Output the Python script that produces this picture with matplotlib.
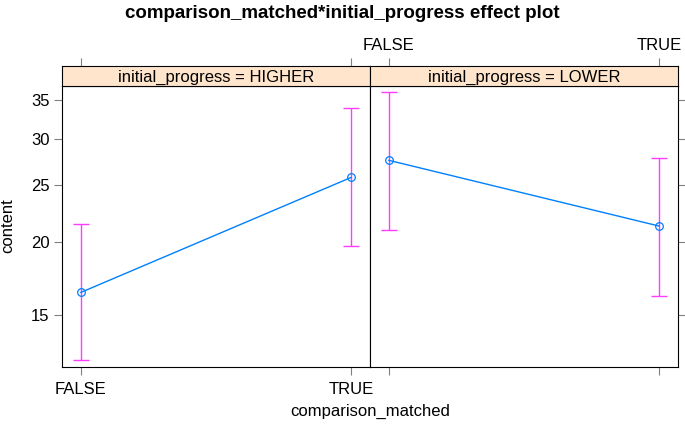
import matplotlib
matplotlib.use("Agg")
import matplotlib.pyplot as plt
import numpy as np

plt.rcParams['font.family'] = ['Liberation Sans', 'DejaVu Sans']

levels = ["FALSE", "TRUE"]
panels = ["initial_progress = HIGHER", "initial_progress = LOWER"]
fit = [[16.4, 25.8], [27.6, 21.3]]
lower = [[12.55, 19.7], [21.0, 16.15]]
upper = [[21.5, 33.9], [36.1, 27.9]]
yticks = [15, 20, 25, 30, 35]

W, H = 685, 426
fig = plt.figure(figsize=(W / 100, H / 100), dpi=100)

def fx(px):
  return px / W

def fy(px):
  return 1 - px / H

xpos = np.array([1, 2])
xlim = (1 - 0.07, 2 + 0.07)
ylim = (12.22, 37.0)
tick_col = "#808080"
fs = 12

for i in range(2):
  left = 62 + i * 308
  ax = fig.add_axes([fx(left), fy(367), fx(308), fy(86) - fy(367)])
  ax.set_yscale("log")
  ax.set_xlim(*xlim)
  ax.set_ylim(*ylim)
  err = [np.array(fit[i]) - np.array(lower[i]), np.array(upper[i]) - np.array(fit[i])]
  ax.errorbar(xpos, fit[i], yerr=err, fmt="none", ecolor="#FF3DFF", elinewidth=1.0,
              capsize=5.5, capthick=1.0)
  ax.plot(xpos, fit[i], color="#0080FF", lw=1.0, marker="o", ms=5.5, mfc="none", mec="#0080FF", mew=0.9)
  ax.yaxis.set_minor_locator(matplotlib.ticker.NullLocator())
  ax.set_yticks(yticks)
  ax.set_xticks(xpos)
  ax.tick_params(direction="out", length=5.5, color=tick_col, labelsize=fs)
  ax.tick_params(axis="x", pad=5)
  if i == 0:
    ax.set_yticklabels([str(t) for t in yticks])
    ax.set_xticklabels(levels)
    ax.tick_params(axis="y", left=True, right=False)
  else:
    ax.tick_params(axis="y", left=False, right=True, labelleft=False)
    ax.tick_params(axis="x", labelbottom=False)
  for s in ax.spines.values():
    s.set_linewidth(0.8)

  sax = fig.add_axes([fx(left), fy(86), fx(308), fy(66) - fy(86)])
  sax.set_facecolor("#FFE5CC")
  sax.set_xlim(*xlim)
  sax.set_ylim(0, 1)
  sax.set_yticks([])
  sax.set_xticks(xpos)
  sax.tick_params(axis="x", bottom=False, top=True, labelbottom=False,
                  labeltop=(i == 1), direction="out", length=5.5, color=tick_col, labelsize=fs)
  if i == 1:
    sax.set_xticklabels(levels)
  sax.text(1.5, 0.45, panels[i], ha="center", va="center", fontsize=fs)
  for s in sax.spines.values():
    s.set_linewidth(0.8)

fig.text(0.5, fy(14), "comparison_matched*initial_progress effect plot", ha="center", va="center",
         fontsize=13.5, fontweight="bold")
fig.text(fx(8), fy(226), "content", rotation=90, ha="center", va="center", fontsize=fs)
fig.text(fx(370), fy(411), "comparison_matched", ha="center", va="center", fontsize=fs)

fig.savefig("out.png", dpi=100)
